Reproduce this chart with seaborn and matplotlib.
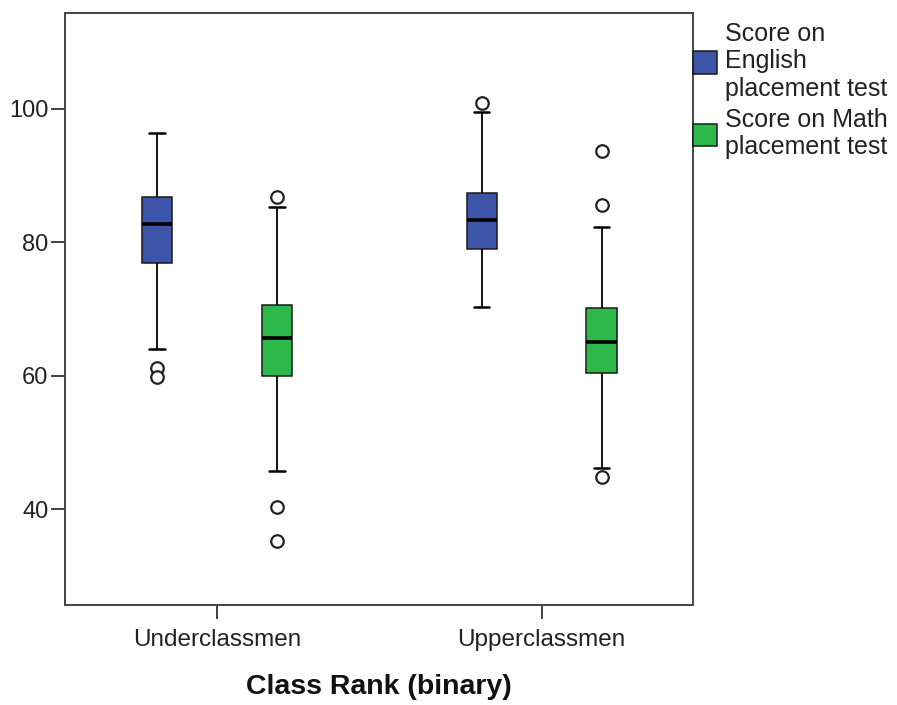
import numpy as np
import pandas as pd
import matplotlib
matplotlib.use("Agg")
import matplotlib.pyplot as plt
import seaborn as sns

# ---- data (box statistics per group) ----
ranks = ["Underclassmen", "Upperclassmen"]
tests = ["Score on\nEnglish\nplacement test", "Score on Math\nplacement test"]

# order: (Under-English, Under-Math, Upper-English, Upper-Math)
group_rank = ["Underclassmen", "Underclassmen", "Upperclassmen", "Upperclassmen"]
group_test = [tests[0], tests[1], tests[0], tests[1]]
whisker_low = [64.0, 45.8, 70.3, 46.2]
quartile1 = [76.9, 60.0, 79.0, 60.4]
medians = [82.7, 65.6, 83.3, 65.0]
quartile3 = [86.8, 70.6, 87.3, 70.2]
whisker_high = [96.4, 85.2, 99.5, 82.3]
outliers = [[61.1, 59.9], [86.8, 40.3, 35.3], [100.8], [93.7, 85.5, 44.8]]

# build samples reproducing those statistics
rows = []
n_rep = 12
for i in range(4):
    vals = ([whisker_low[i]] + [quartile1[i]] * n_rep + [medians[i]] * n_rep
            + [quartile3[i]] * n_rep + [whisker_high[i]] + outliers[i])
    for v in vals:
        rows.append({"rank": group_rank[i], "test": group_test[i], "score": v})
df = pd.DataFrame(rows)

blue = "#3D55A8"
green = "#2DB84A"

sns.set_theme(style="white")
plt.rcParams["font.family"] = ["Liberation Sans", "DejaVu Sans"]

fig = plt.figure(figsize=(8.97, 7.05), dpi=100)
ax = fig.add_axes([0.0725, 0.1418, 0.7001, 0.8393])

sns.boxplot(
    data=df, x="rank", y="score", hue="test", order=ranks, hue_order=tests,
    palette=[blue, green], width=0.738, gap=0.745, whis=1.5,
    linecolor="#1a1a1a", linewidth=1.1, saturation=1, ax=ax,
    medianprops=dict(color="black", linewidth=2.6),
    whiskerprops=dict(color="black", linewidth=1.3),
    capprops=dict(color="black", linewidth=1.8),
    flierprops=dict(marker="o", markersize=9, markerfacecolor="white",
                    markeredgecolor="#222222", markeredgewidth=1.6),
)

ax.set_xlim(-0.468, 1.466)
ax.set_ylim(25.7, 114.25)
ax.set_yticks([40, 60, 80, 100])
ax.set_xlabel("Class Rank (binary)", fontsize=20.5, fontweight="bold",
              color="#111111", labelpad=16)
ax.set_ylabel("")

for s in ax.spines.values():
    s.set_visible(True)
    s.set_color("#444444")
    s.set_linewidth(1.4)

ax.tick_params(axis="y", which="major", direction="out", length=10, width=1.3,
               color="#333333", labelsize=17, labelcolor="#222222", pad=2, left=True)
ax.tick_params(axis="x", which="major", direction="out", length=10, width=1.3,
               color="#333333", labelsize=17.5, labelcolor="#222222", pad=7.5, bottom=True)

handles, labels = ax.get_legend_handles_labels()
if ax.get_legend() is not None:
    ax.get_legend().remove()
leg = ax.legend(handles, labels, loc="upper left", bbox_to_anchor=(1.0, 0.985),
                borderaxespad=0, borderpad=0, frameon=False, fontsize=18,
                handlelength=0.96, handleheight=1.0, handletextpad=0.32,
                labelspacing=0.3)
for t in leg.get_texts():
    t.set_linespacing(1.17)
    t.set_color("#222222")
for h in leg.legend_handles:
    h.set_edgecolor("#1a1a1a")
    h.set_linewidth(1.1)

fig.savefig("out.png", dpi=100)
